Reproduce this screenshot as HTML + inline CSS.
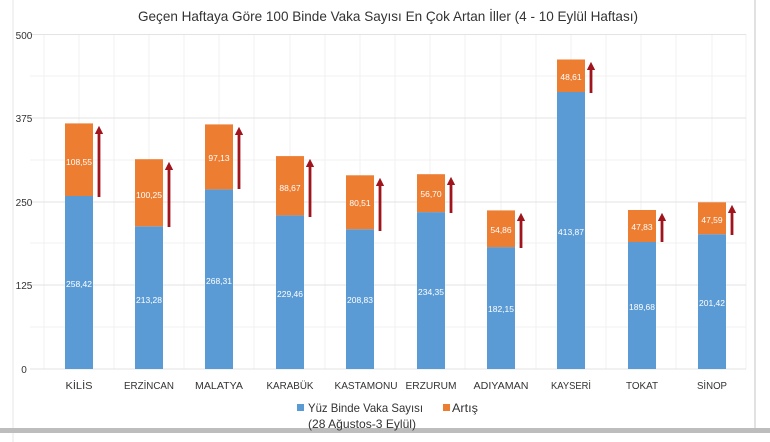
<!DOCTYPE html>
<html><head><meta charset="utf-8"><style>
html,body{margin:0;padding:0;background:#fff;}
svg{display:block;font-family:"Liberation Sans",sans-serif;}
</style></head><body>
<svg width="770" height="442" xmlns="http://www.w3.org/2000/svg">
<rect width="770" height="442" fill="#fff"/>
<line x1="13" y1="0" x2="13" y2="442" stroke="#e4e4e4" stroke-width="1"/>
<line x1="755" y1="0" x2="755" y2="430" stroke="#d8d8d8" stroke-width="1.5"/>
<rect x="0" y="428" width="770" height="5" fill="#bdbdbd"/>
<text x="388" y="21" font-size="14" text-anchor="middle" fill="#333" textLength="500" lengthAdjust="spacingAndGlyphs">Geçen Haftaya Göre 100 Binde Vaka Sayısı En Çok Artan İller (4 - 10 Eylül Haftası)</text>
<g stroke="#f0f0f0" stroke-width="1">
<line x1="44" y1="34" x2="44" y2="369"/><line x1="79" y1="34" x2="79" y2="369"/><line x1="114" y1="34" x2="114" y2="369"/><line x1="149" y1="34" x2="149" y2="369"/><line x1="184" y1="34" x2="184" y2="369"/><line x1="219" y1="34" x2="219" y2="369"/><line x1="254" y1="34" x2="254" y2="369"/><line x1="290" y1="34" x2="290" y2="369"/><line x1="325" y1="34" x2="325" y2="369"/><line x1="360" y1="34" x2="360" y2="369"/><line x1="395" y1="34" x2="395" y2="369"/><line x1="430" y1="34" x2="430" y2="369"/><line x1="465" y1="34" x2="465" y2="369"/><line x1="501" y1="34" x2="501" y2="369"/><line x1="536" y1="34" x2="536" y2="369"/><line x1="571" y1="34" x2="571" y2="369"/><line x1="606" y1="34" x2="606" y2="369"/><line x1="641" y1="34" x2="641" y2="369"/><line x1="676" y1="34" x2="676" y2="369"/><line x1="712" y1="34" x2="712" y2="369"/><line x1="746" y1="34" x2="746" y2="369"/>
<line x1="30" y1="76" x2="746" y2="76"/><line x1="30" y1="160" x2="746" y2="160"/><line x1="30" y1="243" x2="746" y2="243"/><line x1="30" y1="327" x2="746" y2="327"/>
</g>
<g stroke="#e3e3e3" stroke-width="1">
<line x1="30" y1="34.5" x2="746" y2="34.5"/><line x1="30" y1="118" x2="746" y2="118"/><line x1="30" y1="202" x2="746" y2="202"/><line x1="30" y1="285" x2="746" y2="285"/><line x1="30" y1="369" x2="746" y2="369"/>
</g>
<g font-size="10" fill="#333" text-anchor="middle">
<text x="24" y="39">500</text><text x="24" y="122">375</text><text x="24" y="206">250</text><text x="24" y="289">125</text><text x="24" y="373">0</text>
</g>
<defs><marker id="ah" markerWidth="3" markerHeight="3" refX="1.5" refY="1.5" orient="auto"><path d="M0,0 L3,1.5 L0,3 z" fill="#a0141b"/></marker></defs>
<g font-size="8.5" fill="#fff" text-anchor="middle">
<rect x="65" y="196.0" width="28" height="173.0" fill="#5b9bd5"/><rect x="65" y="123.4" width="28" height="72.6" fill="#ed7d31"/>
<text x="79" y="287">258,42</text><text x="79" y="165">108,55</text>
<rect x="135" y="226.3" width="28" height="142.7" fill="#5b9bd5"/><rect x="135" y="159.2" width="28" height="67.1" fill="#ed7d31"/>
<text x="149" y="303">213,28</text><text x="149" y="198">100,25</text>
<rect x="205" y="189.4" width="28" height="179.6" fill="#5b9bd5"/><rect x="205" y="124.4" width="28" height="65.0" fill="#ed7d31"/>
<text x="219" y="284">268,31</text><text x="219" y="161">97,13</text>
<rect x="276" y="215.4" width="28" height="153.6" fill="#5b9bd5"/><rect x="276" y="156.1" width="28" height="59.3" fill="#ed7d31"/>
<text x="290" y="297">229,46</text><text x="290" y="191">88,67</text>
<rect x="346" y="229.2" width="28" height="139.8" fill="#5b9bd5"/><rect x="346" y="175.3" width="28" height="53.9" fill="#ed7d31"/>
<text x="360" y="303">208,83</text><text x="360" y="206">80,51</text>
<rect x="417" y="212.1" width="28" height="156.9" fill="#5b9bd5"/><rect x="417" y="174.2" width="28" height="37.9" fill="#ed7d31"/>
<text x="431" y="295">234,35</text><text x="431" y="197">56,70</text>
<rect x="487" y="247.1" width="28" height="121.9" fill="#5b9bd5"/><rect x="487" y="210.4" width="28" height="36.7" fill="#ed7d31"/>
<text x="501" y="312">182,15</text><text x="501" y="233">54,86</text>
<rect x="557" y="92.0" width="28" height="277.0" fill="#5b9bd5"/><rect x="557" y="59.5" width="28" height="32.5" fill="#ed7d31"/>
<text x="571" y="235">413,87</text><text x="571" y="80">48,61</text>
<rect x="628" y="242.0" width="28" height="127.0" fill="#5b9bd5"/><rect x="628" y="210.0" width="28" height="32.0" fill="#ed7d31"/>
<text x="642" y="310">189,68</text><text x="642" y="230">47,83</text>
<rect x="698" y="234.2" width="28" height="134.8" fill="#5b9bd5"/><rect x="698" y="202.3" width="28" height="31.9" fill="#ed7d31"/>
<text x="712" y="306">201,42</text><text x="712" y="223">47,59</text>
</g>
<g stroke="#a0141b" stroke-width="2.8" marker-end="url(#ah)">
<line x1="99" y1="197" x2="99" y2="130"/>
<line x1="169" y1="227" x2="169" y2="166"/>
<line x1="239" y1="189" x2="239" y2="131"/>
<line x1="310" y1="217" x2="310" y2="163"/>
<line x1="380" y1="231" x2="380" y2="182"/>
<line x1="451" y1="213" x2="451" y2="181"/>
<line x1="521" y1="248" x2="521" y2="217"/>
<line x1="591" y1="93" x2="591" y2="66"/>
<line x1="662" y1="242" x2="662" y2="217"/>
<line x1="732" y1="235" x2="732" y2="209"/>
</g>
<g font-size="10.5" fill="#333" text-anchor="middle">
<text x="79" y="389" textLength="27" lengthAdjust="spacingAndGlyphs">KİLİS</text><text x="149" y="389" textLength="50" lengthAdjust="spacingAndGlyphs">ERZİNCAN</text><text x="219" y="389" textLength="48" lengthAdjust="spacingAndGlyphs">MALATYA</text><text x="290" y="389" textLength="47" lengthAdjust="spacingAndGlyphs">KARABÜK</text><text x="366" y="389" textLength="63" lengthAdjust="spacingAndGlyphs">KASTAMONU</text><text x="431" y="389" textLength="51" lengthAdjust="spacingAndGlyphs">ERZURUM</text><text x="501" y="389" textLength="55" lengthAdjust="spacingAndGlyphs">ADIYAMAN</text><text x="571" y="389" textLength="40" lengthAdjust="spacingAndGlyphs">KAYSERİ</text><text x="642" y="389" textLength="32" lengthAdjust="spacingAndGlyphs">TOKAT</text><text x="712" y="389" textLength="30" lengthAdjust="spacingAndGlyphs">SİNOP</text>
</g>
<rect x="297" y="404" width="7" height="7" fill="#5b9bd5"/>
<text x="308" y="412" font-size="12" fill="#333" textLength="115" lengthAdjust="spacingAndGlyphs">Yüz Binde Vaka Sayısı</text>
<rect x="443" y="404" width="7" height="7" fill="#ed7d31"/>
<text x="452" y="412" font-size="12" fill="#333" textLength="26" lengthAdjust="spacingAndGlyphs">Artış</text>
<text x="308" y="428" font-size="12" fill="#333" textLength="108" lengthAdjust="spacingAndGlyphs">(28 Ağustos-3 Eylül)</text>
</svg>
</body></html>
